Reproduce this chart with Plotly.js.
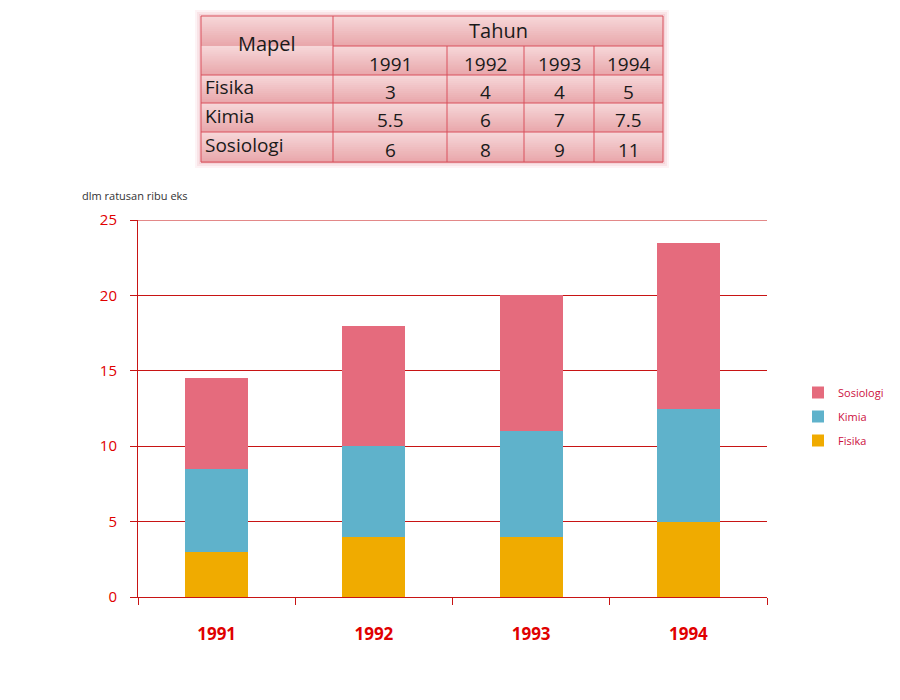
<!DOCTYPE html>
<html>
<head>
<meta charset="utf-8">
<script src="https://cdn.plot.ly/plotly-3.0.1.min.js"></script>
<style>
  html, body { margin: 0; padding: 0; background: #ffffff; }
  #chart { width: 900px; height: 700px; }
</style>
</head>
<body>
<div id="chart"></div>
<script>
// ---- data ----
const years = ['1991', '1992', '1993', '1994'];
const fisika = [3, 4, 4, 5];
const kimia = [5.5, 6, 7, 7.5];
const sosiologi = [6, 8, 9, 11];
const seriesNames = ['Fisika', 'Kimia', 'Sosiologi'];
const tableHeaderLeft = 'Mapel';
const tableHeaderTop = 'Tahun';
const yAxisNote = 'dlm ratusan ribu eks';

// ---- layout helpers (pixel -> paper) ----
const W = 900, H = 700;
const M = { l: 138, r: 133, t: 220, b: 103, autoexpand: false };
const PW = W - M.l - M.r, PH = H - M.t - M.b;
const px = x => (x - M.l) / PW;
const py = y => (H - M.b - y) / PH;

const red = '#c81414';
const tableFont = 'Open Sans, Lato, sans-serif';
const colors = { Fisika: '#f0ab00', Kimia: '#5fb2cb', Sosiologi: '#e56b7d' };

const seriesValues = [fisika, kimia, sosiologi];
const traces = seriesNames.map((name, i) => ({
  type: 'bar',
  name: name,
  x: years,
  y: seriesValues[i],
  legendgroup: name,
  legendrank: 1000 - i,
  marker: { color: colors[name], line: { width: 0 } },
  hoverinfo: 'x+y+name'
}));

// ---- table drawn with shapes + annotations ----
const colEdges = [201, 333, 447, 524, 594, 663];
const rowEdges = [16, 46, 75, 103, 132, 162];
const shapes = [];
const annotations = [];

// soft outer glow
[[6, 0.12], [4, 0.18], [2, 0.25]].forEach(([g, a]) => {
  shapes.push({ type: 'rect', xref: 'paper', yref: 'paper', layer: 'below',
    x0: px(colEdges[0] - g), x1: px(colEdges[5] + g), y0: py(rowEdges[0] - g), y1: py(rowEdges[5] + g),
    fillcolor: 'rgba(235,160,170,' + a + ')', line: { width: 0 } });
});

// row gradients (light top -> pink bottom)
const topCol = [246, 216, 218], botCol = [233, 166, 170];
const mix = (a, b, t) => 'rgb(' + a.map((v, k) => Math.round(v + (b[k] - v) * t)).join(',') + ')';
const strips = 14;
for (let r = 0; r < rowEdges.length - 1; r++) {
  const y0 = rowEdges[r], y1 = rowEdges[r + 1];
  for (let s = 0; s < strips; s++) {
    const a = y0 + (y1 - y0) * s / strips, b = y0 + (y1 - y0) * (s + 1) / strips;
    shapes.push({ type: 'rect', xref: 'paper', yref: 'paper', layer: 'below',
      x0: px(colEdges[0]), x1: px(colEdges[colEdges.length - 1]),
      y0: py(a), y1: py(b + 1),
      fillcolor: mix(topCol, botCol, (s + 0.5) / strips), line: { width: 0 } });
  }
}
const tLine = { color: '#d9505d', width: 1 };
// horizontal lines
rowEdges.forEach((y, r) => {
  const x0 = (r === 1) ? colEdges[1] : colEdges[0];
  shapes.push({ type: 'line', xref: 'paper', yref: 'paper',
    x0: px(x0), x1: px(colEdges[colEdges.length - 1]), y0: py(y), y1: py(y), line: tLine });
});
// vertical lines
colEdges.forEach((x, c) => {
  const yStart = (c >= 2 && c <= 4) ? rowEdges[1] : rowEdges[0];
  shapes.push({ type: 'line', xref: 'paper', yref: 'paper',
    x0: px(x), x1: px(x), y0: py(yStart), y1: py(rowEdges[rowEdges.length - 1]), line: tLine });
});

const tText = (text, x, y, xanchor, size) => annotations.push({
  text: text, xref: 'paper', yref: 'paper', x: px(x), y: py(y),
  xanchor: xanchor || 'center', yanchor: 'middle', showarrow: false,
  font: { family: tableFont, size: size || 19, color: '#1a1a1a' }
});
tText(tableHeaderLeft, (colEdges[0] + colEdges[1]) / 2, (rowEdges[0] + rowEdges[2]) / 2 - 2, 'center', 20);
tText(tableHeaderTop, (colEdges[1] + colEdges[5]) / 2, (rowEdges[0] + rowEdges[1]) / 2, 'center', 20);
years.forEach((yr, c) => tText(yr, (colEdges[c + 1] + colEdges[c + 2]) / 2, (rowEdges[1] + rowEdges[2]) / 2 + 3));
seriesNames.forEach((name, r) => {
  const yc = (rowEdges[r + 2] + rowEdges[r + 3]) / 2;
  tText(name, colEdges[0] + 2, yc - 2, 'left');
  seriesValues[r].forEach((v, c) => tText(String(v), (colEdges[c + 1] + colEdges[c + 2]) / 2, yc + 3));
});

// axis note
annotations.push({ text: yAxisNote, xref: 'paper', yref: 'paper', x: px(80), y: py(195),
  xanchor: 'left', yanchor: 'middle', showarrow: false,
  font: { family: 'Open Sans, sans-serif', size: 11, color: '#333333' } });

// gridline at top of range
shapes.push({ type: 'line', xref: 'paper', yref: 'y', x0: 0, x1: 1, y0: 25, y1: 25,
  line: { color: red, width: 1 } });

const layout = {
  width: W, height: H,
  margin: M,
  paper_bgcolor: '#ffffff', plot_bgcolor: '#ffffff',
  barmode: 'stack',
  bargap: 0.6,
  showlegend: true,
  legend: {
    x: px(798), y: py(378), xanchor: 'left', yanchor: 'top',
    traceorder: 'grouped', tracegroupgap: 5,
    font: { family: 'Open Sans, sans-serif', size: 11, color: '#cc1040' },
    itemwidth: 30, bgcolor: 'rgba(0,0,0,0)'
  },
  xaxis: {
    type: 'category',
    showgrid: false,
    showline: true, linecolor: red, linewidth: 1,
    ticks: 'outside', tickson: 'boundaries', ticklen: 7, tickcolor: red,
    ticklabelstandoff: 22,
    tickfont: { family: 'Open Sans, sans-serif', size: 17, color: '#e00000', weight: 'bold' }
  },
  yaxis: {
    range: [0, 25], dtick: 5, tick0: 0,
    showgrid: true, gridcolor: red, gridwidth: 1,
    showline: true, linecolor: red, linewidth: 1,
    zeroline: false,
    ticks: 'outside', ticklen: 7, tickcolor: red,
    ticklabelstandoff: 10,
    tickfont: { family: 'Open Sans, sans-serif', size: 15, color: '#e00000' }
  },
  shapes: shapes,
  annotations: annotations
};

Plotly.newPlot('chart', traces, layout, { displayModeBar: false, staticPlot: true });
</script>
</body>
</html>
